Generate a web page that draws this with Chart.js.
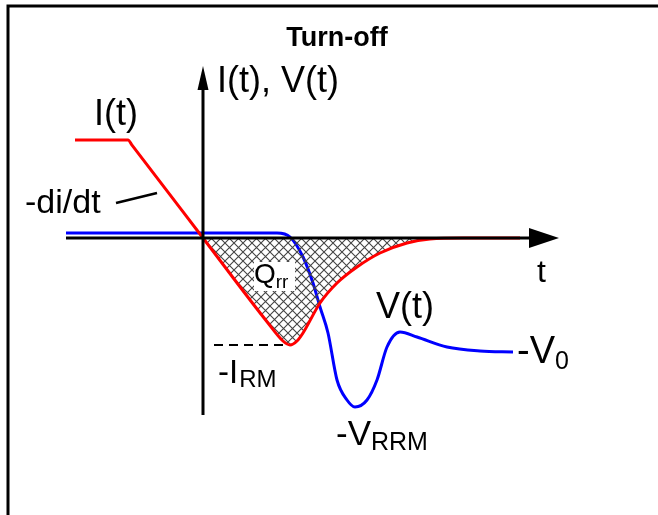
<!DOCTYPE html>
<html>
<head>
<meta charset="utf-8">
<script src="https://cdn.jsdelivr.net/npm/chart.js@4.4.0/dist/chart.umd.min.js"></script>
<style>
  body { margin: 0; background: #fff; }
  canvas { display: block; }
</style>
</head>
<body>
<canvas id="c" width="658" height="515"></canvas>
<script>
// current I(t) during turn-off (time / current in arbitrary units)
const tI = [-12.8, -7.5, -7.1, 0, 6.5, 8.0, 8.7, 9.4, 10.0, 11.7, 13.4, 15.4, 17.7, 20.4, 22.7, 26.0, 31.7];
const iT = [9.8, 9.8, 9.28, 0, -8.5, -10.3, -10.7, -10.3, -9.5, -6.5, -4.5, -2.9, -1.5, -0.5, -0.1, 0, 0];

// voltage V(t)
const tV = [-13.7, 7.4, 8.7, 10.0, 11.0, 11.7, 12.5, 13.4, 14.4, 15.2, 16.4, 17.4, 18.4, 19.7, 21.4, 24.4, 27.7, 31.0];
const vT = [0.5, 0.5, 0.1, -1.9, -4.5, -6.9, -9.5, -14.2, -16.2, -16.9, -16.2, -14.2, -10.9, -9.4, -9.9, -10.9, -11.3, -11.4];

const irm = -10.7;

const canvas = document.getElementById("c");
const ctx = canvas.getContext("2d");

// crosshatch for Qrr
const tile = document.createElement("canvas");
tile.width = 9; tile.height = 9;
const tc = tile.getContext("2d");
tc.strokeStyle = "#444";
tc.lineWidth = 1.1;
tc.beginPath();
tc.moveTo(0, 0); tc.lineTo(9, 9);
tc.moveTo(9, 0); tc.lineTo(0, 9);
tc.stroke();
const hatch = ctx.createPattern(tile, "repeat");

function text(c, s, x, y, size, bold) {
  c.font = (bold ? "bold " : "") + size + "px 'Liberation Sans', Arial, sans-serif";
  c.fillText(s, x, y);
  return x + c.measureText(s).width;
}

const decor = {
  id: "decor",
  beforeDraw(chart) {
    const c = chart.ctx;
    c.save();
    c.fillStyle = "#fff";
    c.fillRect(0, 0, chart.width, chart.height);
    c.strokeStyle = "#000";
    c.lineWidth = 3;
    c.beginPath();
    c.moveTo(8, chart.height);
    c.lineTo(8, 6);
    c.lineTo(chart.width, 6);
    c.stroke();
    c.restore();
  },
  afterDatasetsDraw(chart) {
    const c = chart.ctx;
    const sx = chart.scales.x, sy = chart.scales.y;
    const x0 = sx.getPixelForValue(0), y0 = sy.getPixelForValue(0);
    c.save();
    c.strokeStyle = "#000";
    c.fillStyle = "#000";

    // axes
    c.lineWidth = 3;
    c.beginPath();
    c.moveTo(x0, 415); c.lineTo(x0, 86);
    c.moveTo(66, y0); c.lineTo(532, y0);
    c.stroke();
    c.beginPath();
    c.moveTo(x0, 66); c.lineTo(x0 - 5.5, 90); c.lineTo(x0 + 5.5, 90); c.closePath();
    c.fill();
    c.beginPath();
    c.moveTo(559, y0); c.lineTo(529, y0 - 10); c.lineTo(529, y0 + 10); c.closePath();
    c.fill();

    // -IRM dashed level
    const yr = sy.getPixelForValue(irm);
    c.lineWidth = 2;
    c.setLineDash([9, 6]);
    c.beginPath();
    c.moveTo(214, yr); c.lineTo(288, yr);
    c.stroke();
    c.setLineDash([]);

    // -di/dt pointer
    c.lineWidth = 2.5;
    c.beginPath();
    c.moveTo(116, 203); c.lineTo(157, 193);
    c.stroke();

    // Qrr box
    c.fillStyle = "#fff";
    c.fillRect(254, 262, 41, 29);
    c.fillStyle = "#000";

    c.textBaseline = "alphabetic";
    c.textAlign = "center";
    text(c, "Turn-off", 337, 46, 27, true);
    c.textAlign = "left";
    text(c, "I(t), V(t)", 217, 92, 36);
    text(c, "I(t)", 94, 125, 36);
    text(c, "-di/dt", 25, 213, 34);
    text(c, "t", 537, 282, 32);
    let e = text(c, "Q", 254, 283, 28);
    text(c, "rr", e, 288, 19);
    text(c, "V(t)", 376, 318, 36);
    e = text(c, "-V", 517, 363, 38);
    text(c, "0", e, 369, 25);
    e = text(c, "-I", 218, 383, 33);
    text(c, "RM", e + 1, 387, 24);
    e = text(c, "-V", 336, 445, 35);
    text(c, "RRM", e, 450, 25);
    c.restore();
  }
};

new Chart(canvas, {
  type: "line",
  data: {
    datasets: [
      {
        label: "I(t)",
        data: tI.map((t, i) => ({ x: t, y: iT[i] })),
        borderColor: "#ff0000",
        borderWidth: 3,
        pointRadius: 0,
        cubicInterpolationMode: "monotone",
        fill: { target: "origin", above: "rgba(0,0,0,0)", below: hatch }
      },
      {
        label: "V(t)",
        data: tV.map((t, i) => ({ x: t, y: vT[i] })),
        borderColor: "#0000ff",
        borderWidth: 3,
        pointRadius: 0,
        cubicInterpolationMode: "monotone",
        fill: false
      }
    ]
  },
  options: {
    responsive: false,
    animation: false,
    devicePixelRatio: 1,
    layout: { padding: 0 },
    plugins: { legend: { display: false }, tooltip: { enabled: false }, title: { display: false } },
    scales: {
      x: { type: "linear", min: -20.3, max: 45.5, display: false },
      y: { type: "linear", min: -27.7, max: 23.8, display: false }
    }
  },
  plugins: [decor]
});
</script>
</body>
</html>
